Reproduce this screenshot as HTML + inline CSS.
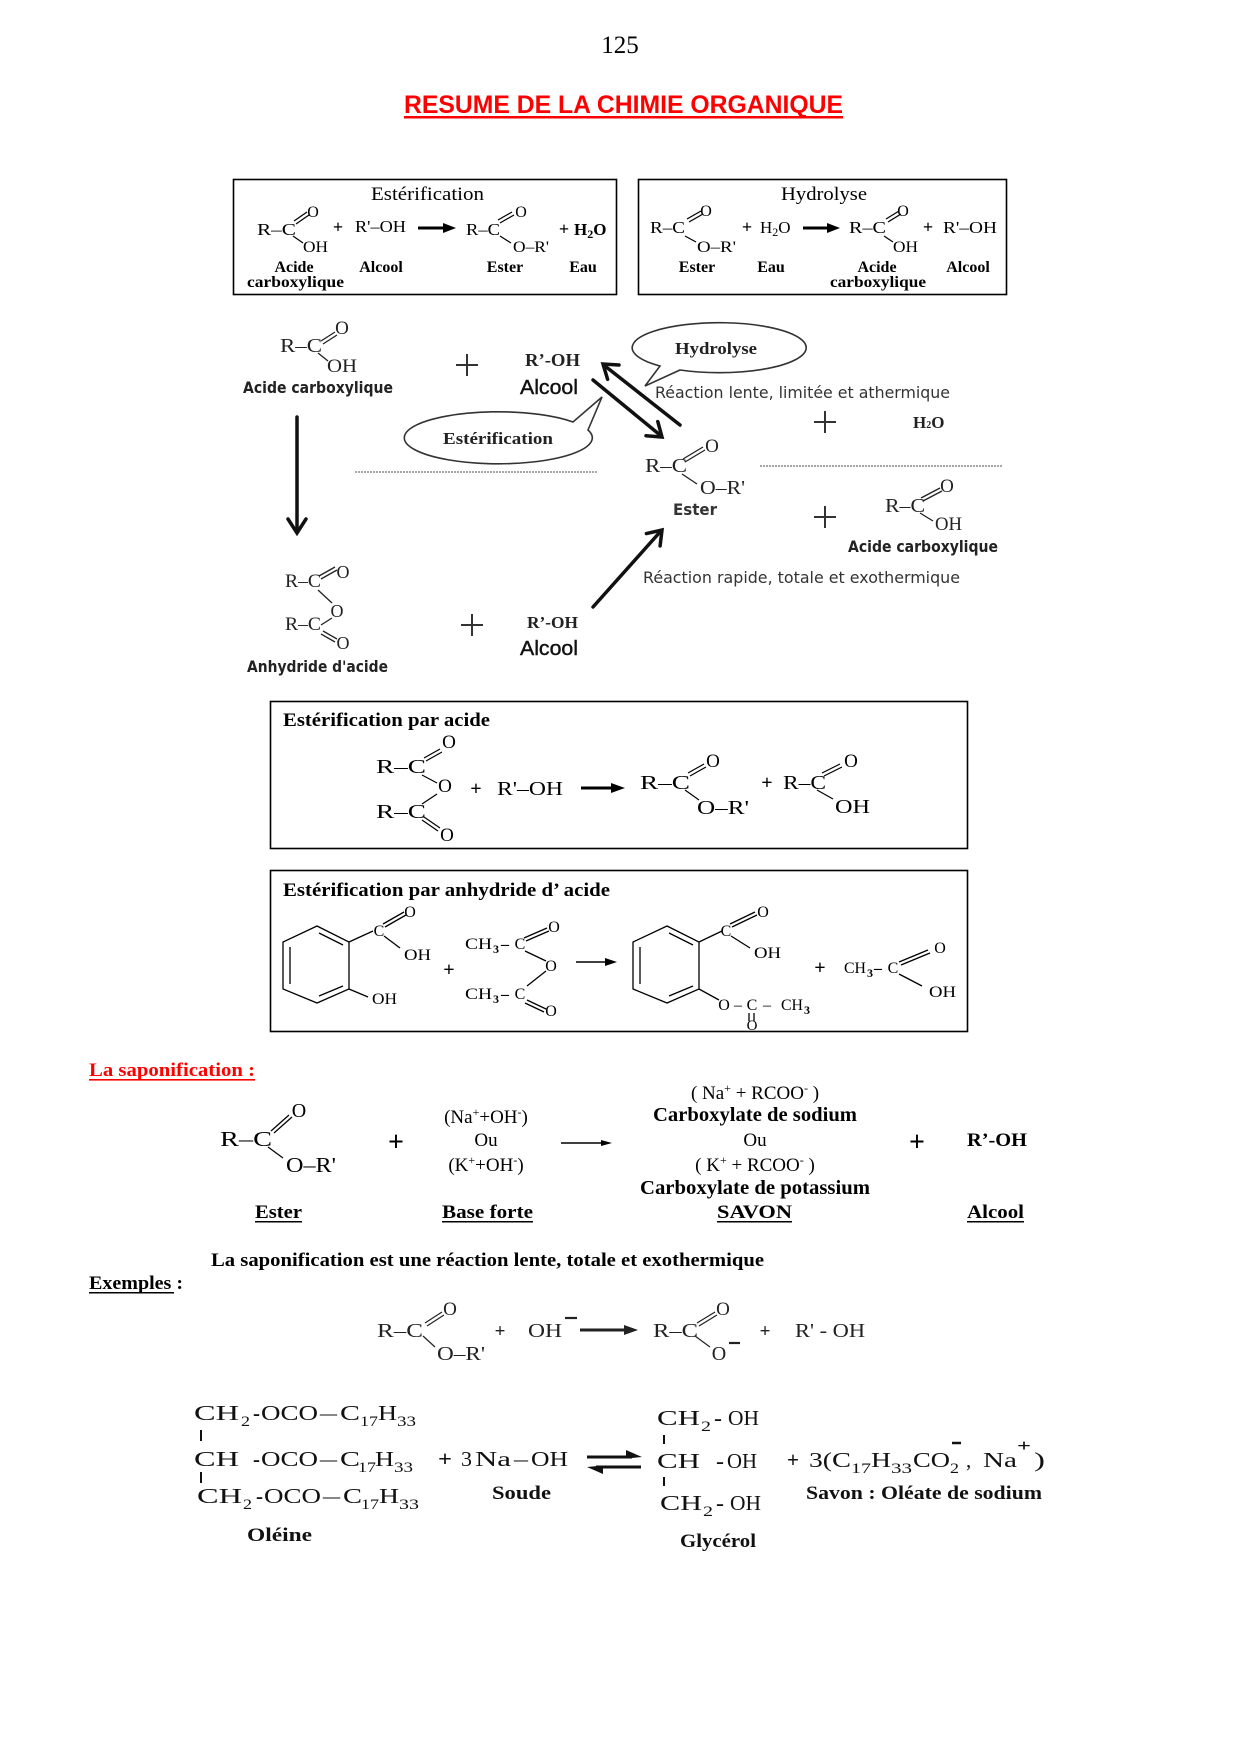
<!DOCTYPE html>
<html><head><meta charset="utf-8">
<style>
html,body{margin:0;padding:0;background:#fff;}
svg{display:block;}
svg text{font-family:"Liberation Serif",serif;}
svg text.ss{font-family:"Liberation Sans",sans-serif;}
svg text.c{font-family:"DejaVu Sans",sans-serif;}
svg text.b{font-weight:bold;}
</style></head><body>
<svg width="1240" height="1754" viewBox="0 0 1240 1754" xmlns="http://www.w3.org/2000/svg">
<rect width="1240" height="1754" fill="#fff"/>

<!-- Header -->
<text x="620" y="53" text-anchor="middle" font-size="25">125</text>
<text x="404" y="113" class="ss b" font-size="25" fill="#f00" textLength="439" lengthAdjust="spacingAndGlyphs">RESUME DE LA CHIMIE ORGANIQUE</text>
<rect x="404" y="116" width="439" height="2.5" fill="#f00"/>

<!-- Box 1 : Esterification -->
<rect x="233.5" y="179.5" width="383" height="115" fill="none" stroke="#000" stroke-width="1.6"/>
<text x="371" y="200" font-size="19" textLength="113" lengthAdjust="spacingAndGlyphs">Estérification</text>
<text x="257" y="235" font-size="17" textLength="39" lengthAdjust="spacingAndGlyphs">R–C</text>
<text x="313" y="217" font-size="16" text-anchor="middle">O</text>
<g stroke="#000" stroke-width="1.2">
<line x1="294" y1="221" x2="307" y2="212"/><line x1="296" y1="224" x2="309" y2="215"/>
<line x1="293" y1="236" x2="303" y2="243"/>
</g>
<text x="303" y="252" font-size="16" textLength="25" lengthAdjust="spacingAndGlyphs">OH</text>
<text x="338" y="233" font-size="18" class="b" text-anchor="middle">+</text>
<text x="355" y="232" font-size="17" textLength="51" lengthAdjust="spacingAndGlyphs">R'–OH</text>
<line x1="418" y1="228" x2="446" y2="228" stroke="#000" stroke-width="3"/>
<polygon points="443,223 456,228 443,233" fill="#000"/>
<text x="466" y="235" font-size="17" textLength="34" lengthAdjust="spacingAndGlyphs">R–C</text>
<text x="521" y="217" font-size="16" text-anchor="middle">O</text>
<g stroke="#000" stroke-width="1.2">
<line x1="498" y1="220" x2="512" y2="212"/><line x1="500" y1="223" x2="514" y2="215"/>
<line x1="500" y1="236" x2="511" y2="243"/>
</g>
<text x="513" y="252" font-size="16" textLength="36" lengthAdjust="spacingAndGlyphs">O–R'</text>
<text x="564" y="235" font-size="18" class="b" text-anchor="middle">+</text>
<text x="574" y="235" font-size="17" class="b">H<tspan font-size="12" dy="3">2</tspan><tspan dy="-3">O</tspan></text>
<text x="294" y="272" font-size="16" class="b" text-anchor="middle">Acide</text>
<text x="247" y="287" font-size="16" class="b" textLength="97" lengthAdjust="spacingAndGlyphs">carboxylique</text>
<text x="381" y="272" font-size="16" class="b" text-anchor="middle">Alcool</text>
<text x="505" y="272" font-size="16" class="b" text-anchor="middle">Ester</text>
<text x="583" y="272" font-size="16" class="b" text-anchor="middle">Eau</text>

<!-- Box 2 : Hydrolyse -->
<rect x="638.5" y="179.5" width="368" height="115" fill="none" stroke="#000" stroke-width="1.6"/>
<text x="781" y="200" font-size="19" textLength="86" lengthAdjust="spacingAndGlyphs">Hydrolyse</text>
<text x="650" y="233" font-size="17" textLength="35" lengthAdjust="spacingAndGlyphs">R–C</text>
<text x="706" y="216" font-size="16" text-anchor="middle">O</text>
<g stroke="#000" stroke-width="1.2">
<line x1="687" y1="219" x2="701" y2="211"/><line x1="689" y1="222" x2="703" y2="214"/>
<line x1="685" y1="236" x2="696" y2="242"/>
</g>
<text x="697" y="252" font-size="16" textLength="39" lengthAdjust="spacingAndGlyphs">O–R'</text>
<text x="747" y="233" font-size="18" class="b" text-anchor="middle">+</text>
<text x="760" y="233" font-size="17">H<tspan font-size="12" dy="3">2</tspan><tspan dy="-3">O</tspan></text>
<line x1="803" y1="228" x2="830" y2="228" stroke="#000" stroke-width="3"/>
<polygon points="827,223 840,228 827,233" fill="#000"/>
<text x="849" y="233" font-size="17" textLength="37" lengthAdjust="spacingAndGlyphs">R–C</text>
<text x="903" y="216" font-size="16" text-anchor="middle">O</text>
<g stroke="#000" stroke-width="1.2">
<line x1="886" y1="219" x2="899" y2="211"/><line x1="888" y1="222" x2="901" y2="214"/>
<line x1="884" y1="236" x2="893" y2="242"/>
</g>
<text x="893" y="252" font-size="16" textLength="25" lengthAdjust="spacingAndGlyphs">OH</text>
<text x="928" y="233" font-size="18" class="b" text-anchor="middle">+</text>
<text x="943" y="233" font-size="17" textLength="54" lengthAdjust="spacingAndGlyphs">R'–OH</text>
<text x="697" y="272" font-size="16" class="b" text-anchor="middle">Ester</text>
<text x="771" y="272" font-size="16" class="b" text-anchor="middle">Eau</text>
<text x="877" y="272" font-size="16" class="b" text-anchor="middle">Acide</text>
<text x="830" y="287" font-size="16" class="b" textLength="96" lengthAdjust="spacingAndGlyphs">carboxylique</text>
<text x="968" y="272" font-size="16" class="b" text-anchor="middle">Alcool</text>

<!-- Middle diagram -->
<g fill="#222">
<text x="280" y="352" font-size="20" textLength="42" lengthAdjust="spacingAndGlyphs">R–C</text>
<text x="342" y="334" font-size="19" text-anchor="middle">O</text>
<text x="327" y="372" font-size="19" textLength="30" lengthAdjust="spacingAndGlyphs">OH</text>
</g>
<g stroke="#222" stroke-width="1.3">
<line x1="321" y1="341" x2="335" y2="332"/><line x1="323" y1="344" x2="337" y2="335"/>
<line x1="318" y1="353" x2="328" y2="361"/>
</g>
<text x="243" y="393" class="c b" font-size="16" fill="#222" textLength="150" lengthAdjust="spacingAndGlyphs">Acide carboxylique</text>
<g stroke="#333" stroke-width="2">
<line x1="456" y1="365" x2="478" y2="365"/><line x1="467" y1="354" x2="467" y2="376"/>
</g>
<text x="525" y="366" font-size="18" class="b" fill="#222" textLength="55" lengthAdjust="spacingAndGlyphs">R’-OH</text>
<text x="520" y="394" class="ss" font-size="20" fill="#111" stroke="#111" stroke-width="0.4" textLength="58" lengthAdjust="spacingAndGlyphs">Alcool</text>

<!-- double arrows -->
<g stroke="#111" stroke-width="3.5" fill="none" stroke-linecap="round" stroke-linejoin="miter">
<line x1="680" y1="425" x2="605" y2="366"/>
<polyline points="607.6,379.3 603,364 619,365"/>
<line x1="593" y1="380" x2="660" y2="435"/>
<polyline points="657.8,421.6 662,437 646,435.7"/>
<line x1="297" y1="417" x2="297" y2="531"/>
<polyline points="288,519 297,533 306,519"/>
<line x1="593" y1="607" x2="660" y2="532"/>
<polyline points="646.4,533.6 662,530 660.1,545.9"/>
</g>

<!-- bubbles -->
<path d="M680,370 A87,25 0 1,0 660,366 L645,386 Z" fill="#fff" stroke="#333" stroke-width="1.6"/>
<text x="675" y="354" font-size="17" class="b" fill="#222" textLength="82" lengthAdjust="spacingAndGlyphs">Hydrolyse</text>
<path d="M588,430 A94,26 0 1,1 573,422 L602,397 Z" fill="#fff" stroke="#333" stroke-width="1.6"/>
<text x="443" y="444" font-size="17" class="b" fill="#222" textLength="110" lengthAdjust="spacingAndGlyphs">Estérification</text>

<!-- dotted lines -->
<line x1="355" y1="472" x2="597" y2="472" stroke="#888" stroke-width="1.5" stroke-dasharray="2 1"/>
<line x1="760" y1="466" x2="1002" y2="466" stroke="#888" stroke-width="1.5" stroke-dasharray="2 1"/>

<text x="655" y="398" class="c" font-size="16" fill="#333" textLength="295" lengthAdjust="spacingAndGlyphs">Réaction lente, limitée et athermique</text>
<g stroke="#333" stroke-width="2">
<line x1="814" y1="422" x2="836" y2="422"/><line x1="825" y1="411" x2="825" y2="433"/>
<line x1="814" y1="517" x2="836" y2="517"/><line x1="825" y1="506" x2="825" y2="528"/>
<line x1="461" y1="625" x2="483" y2="625"/><line x1="472" y1="614" x2="472" y2="636"/>
</g>
<text x="913" y="428" font-size="17" class="b" fill="#222">H<tspan font-size="10">2</tspan>O</text>

<!-- Ester middle -->
<g fill="#222">
<text x="645" y="472" font-size="20" textLength="42" lengthAdjust="spacingAndGlyphs">R–C</text>
<text x="712" y="452" font-size="19" text-anchor="middle">O</text>
<text x="700" y="494" font-size="20" textLength="45" lengthAdjust="spacingAndGlyphs">O–R'</text>
</g>
<g stroke="#222" stroke-width="1.3">
<line x1="683" y1="459" x2="703" y2="447"/><line x1="685" y1="462" x2="705" y2="450"/>
<line x1="682" y1="474" x2="697" y2="484"/>
</g>
<text x="673" y="515" class="c b" font-size="16" fill="#333" textLength="44" lengthAdjust="spacingAndGlyphs">Ester</text>

<!-- Acid right -->
<g fill="#222">
<text x="885" y="512" font-size="20" textLength="40" lengthAdjust="spacingAndGlyphs">R–C</text>
<text x="947" y="492" font-size="19" text-anchor="middle">O</text>
<text x="935" y="530" font-size="19" textLength="27" lengthAdjust="spacingAndGlyphs">OH</text>
</g>
<g stroke="#222" stroke-width="1.3">
<line x1="921" y1="498" x2="940" y2="488"/><line x1="923" y1="501" x2="942" y2="491"/>
<line x1="920" y1="513" x2="933" y2="521"/>
</g>
<text x="848" y="552" class="c b" font-size="16" fill="#222" textLength="150" lengthAdjust="spacingAndGlyphs">Acide carboxylique</text>
<text x="643" y="583" class="c" font-size="16" fill="#333" textLength="317" lengthAdjust="spacingAndGlyphs">Réaction rapide, totale et exothermique</text>

<!-- Anhydride -->
<g fill="#222">
<text x="285" y="587" font-size="19" textLength="36" lengthAdjust="spacingAndGlyphs">R–C</text>
<text x="343" y="578" font-size="18" text-anchor="middle">O</text>
<text x="337" y="617" font-size="18" text-anchor="middle">O</text>
<text x="285" y="630" font-size="19" textLength="36" lengthAdjust="spacingAndGlyphs">R–C</text>
<text x="343" y="649" font-size="18" text-anchor="middle">O</text>
</g>
<g stroke="#222" stroke-width="1.3">
<line x1="319" y1="576" x2="335" y2="567"/><line x1="321" y1="579" x2="337" y2="570"/>
<line x1="318" y1="590" x2="332" y2="603"/>
<line x1="332" y1="618" x2="321" y2="625"/>
<line x1="321" y1="634" x2="335" y2="642"/><line x1="323" y1="631" x2="337" y2="639"/>
</g>
<text x="247" y="672" class="c b" font-size="16" fill="#222" textLength="141" lengthAdjust="spacingAndGlyphs">Anhydride d'acide</text>
<text x="527" y="628" font-size="17" class="b" fill="#222" textLength="51" lengthAdjust="spacingAndGlyphs">R’-OH</text>
<text x="520" y="655" class="ss" font-size="20" fill="#111" stroke="#111" stroke-width="0.4" textLength="58" lengthAdjust="spacingAndGlyphs">Alcool</text>

<!-- Box 3 -->
<rect x="270.5" y="701.5" width="697" height="147" fill="none" stroke="#000" stroke-width="1.6"/>
<text x="283" y="726" font-size="19" class="b" textLength="207" lengthAdjust="spacingAndGlyphs">Estérification par acide</text>
<text x="376" y="773" font-size="20" textLength="50" lengthAdjust="spacingAndGlyphs">R–C</text>
<text x="449" y="748" font-size="19" text-anchor="middle">O</text>
<text x="445" y="792" font-size="19" text-anchor="middle">O</text>
<text x="376" y="818" font-size="20" textLength="50" lengthAdjust="spacingAndGlyphs">R–C</text>
<text x="447" y="841" font-size="19" text-anchor="middle">O</text>
<g stroke="#000" stroke-width="1.2">
<line x1="424" y1="758" x2="440" y2="749"/><line x1="426" y1="761" x2="442" y2="752"/>
<line x1="422" y1="775" x2="437" y2="783"/>
<line x1="437" y1="794" x2="422" y2="804"/>
<line x1="424" y1="817" x2="440" y2="828"/><line x1="422" y1="820" x2="438" y2="831"/>
</g>
<text x="476" y="795" font-size="20" class="b" text-anchor="middle">+</text>
<text x="497" y="795" font-size="20" textLength="66" lengthAdjust="spacingAndGlyphs">R'–OH</text>
<line x1="581" y1="788" x2="614" y2="788" stroke="#000" stroke-width="3"/>
<polygon points="611,783 625,788 611,793" fill="#000"/>
<text x="640" y="789" font-size="20" textLength="50" lengthAdjust="spacingAndGlyphs">R–C</text>
<text x="713" y="767" font-size="19" text-anchor="middle">O</text>
<text x="697" y="814" font-size="20" textLength="52" lengthAdjust="spacingAndGlyphs">O–R'</text>
<g stroke="#000" stroke-width="1.2">
<line x1="688" y1="773" x2="704" y2="764"/><line x1="690" y1="776" x2="706" y2="767"/>
<line x1="685" y1="790" x2="699" y2="800"/>
</g>
<text x="767" y="789" font-size="20" class="b" text-anchor="middle">+</text>
<text x="783" y="789" font-size="20" textLength="43" lengthAdjust="spacingAndGlyphs">R–C</text>
<text x="851" y="767" font-size="19" text-anchor="middle">O</text>
<text x="835" y="813" font-size="20" textLength="35" lengthAdjust="spacingAndGlyphs">OH</text>
<g stroke="#000" stroke-width="1.2">
<line x1="822" y1="773" x2="840" y2="764"/><line x1="824" y1="776" x2="842" y2="767"/>
<line x1="817" y1="790" x2="833" y2="799"/>
</g>

<!-- Box 4 -->
<rect x="270.5" y="870.5" width="697" height="161" fill="none" stroke="#000" stroke-width="1.6"/>
<text x="283" y="896" font-size="19" class="b" textLength="327" lengthAdjust="spacingAndGlyphs">Estérification par anhydride d’ acide</text>
<g stroke="#000" stroke-width="1.3" fill="none">
<polygon points="317,926 349,942 349,989 317,1003 283,989 283,942"/>
<line x1="290" y1="947" x2="290" y2="984"/>
<line x1="319" y1="933" x2="343" y2="945"/>
<line x1="343" y1="986" x2="319" y2="996"/>
<line x1="349" y1="942" x2="373" y2="931"/>
<line x1="383" y1="924" x2="404" y2="912"/><line x1="385" y1="927" x2="406" y2="915"/>
<line x1="384" y1="936" x2="400" y2="948"/>
<line x1="349" y1="989" x2="368" y2="997"/>
<line x1="524" y1="938" x2="547" y2="928"/><line x1="526" y1="941" x2="549" y2="931"/>
<line x1="525" y1="951" x2="546" y2="961"/>
<line x1="546" y1="971" x2="527" y2="986"/>
<line x1="527" y1="1000" x2="546" y2="1009"/><line x1="525" y1="1003" x2="544" y2="1012"/>
<polygon points="667,926 699,942 699,989 667,1003 633,989 633,942"/>
<line x1="640" y1="947" x2="640" y2="984"/>
<line x1="669" y1="933" x2="693" y2="945"/>
<line x1="693" y1="986" x2="669" y2="996"/>
<line x1="699" y1="942" x2="722" y2="931"/>
<line x1="730" y1="924" x2="755" y2="912"/><line x1="732" y1="927" x2="757" y2="915"/>
<line x1="731" y1="936" x2="750" y2="948"/>
<line x1="699" y1="989" x2="719" y2="1000"/>
<line x1="749" y1="1013" x2="749" y2="1021"/><line x1="754" y1="1013" x2="754" y2="1021"/>
<line x1="899" y1="962" x2="928" y2="950"/><line x1="901" y1="965" x2="930" y2="953"/>
<line x1="899" y1="974" x2="922" y2="986"/>
</g>
<text x="379" y="936" font-size="16" text-anchor="middle">C</text>
<text x="410" y="917" font-size="16" text-anchor="middle">O</text>
<text x="404" y="960" font-size="16" textLength="27" lengthAdjust="spacingAndGlyphs">OH</text>
<text x="372" y="1004" font-size="16" textLength="25" lengthAdjust="spacingAndGlyphs">OH</text>
<text x="449" y="976" font-size="20" class="b" text-anchor="middle">+</text>
<text x="465" y="949" font-size="16" textLength="27" lengthAdjust="spacingAndGlyphs">CH</text>
<text x="493" y="953" font-size="12" class="b">3</text>
<text x="501" y="949" font-size="16" class="b">–</text>
<text x="520" y="949" font-size="16" text-anchor="middle">C</text>
<text x="554" y="932" font-size="16" text-anchor="middle">O</text>
<text x="551" y="971" font-size="16" text-anchor="middle">O</text>
<text x="465" y="999" font-size="16" textLength="27" lengthAdjust="spacingAndGlyphs">CH</text>
<text x="493" y="1003" font-size="12" class="b">3</text>
<text x="501" y="999" font-size="16" class="b">–</text>
<text x="520" y="999" font-size="16" text-anchor="middle">C</text>
<text x="551" y="1016" font-size="16" text-anchor="middle">O</text>
<line x1="576" y1="962" x2="608" y2="962" stroke="#000" stroke-width="1.6"/>
<polygon points="605,958 617,962 605,966" fill="#000"/>
<text x="726" y="936" font-size="16" text-anchor="middle">C</text>
<text x="763" y="917" font-size="16" text-anchor="middle">O</text>
<text x="754" y="958" font-size="16" textLength="27" lengthAdjust="spacingAndGlyphs">OH</text>
<text x="724" y="1010" font-size="16" text-anchor="middle">O</text>
<text x="738" y="1010" font-size="16" text-anchor="middle">–</text>
<text x="752" y="1010" font-size="16" text-anchor="middle">C</text>
<text x="767" y="1010" font-size="16" text-anchor="middle">–</text>
<text x="781" y="1010" font-size="16" textLength="22" lengthAdjust="spacingAndGlyphs">CH</text>
<text x="804" y="1014" font-size="12" class="b">3</text>
<text x="752" y="1030" font-size="15" text-anchor="middle">O</text>
<text x="820" y="974" font-size="20" class="b" text-anchor="middle">+</text>
<text x="844" y="973" font-size="16" textLength="22" lengthAdjust="spacingAndGlyphs">CH</text>
<text x="867" y="977" font-size="12" class="b">3</text>
<text x="874" y="973" font-size="16" class="b">–</text>
<text x="893" y="973" font-size="16" text-anchor="middle">C</text>
<text x="940" y="953" font-size="16" text-anchor="middle">O</text>
<text x="929" y="997" font-size="16" textLength="27" lengthAdjust="spacingAndGlyphs">OH</text>

<!-- Saponification -->
<text x="89" y="1076" font-size="19" class="b" fill="#f00" textLength="166" lengthAdjust="spacingAndGlyphs">La saponification :</text>
<rect x="89" y="1079" width="166" height="1.6" fill="#f00"/>
<text x="220" y="1146" font-size="21" textLength="52" lengthAdjust="spacingAndGlyphs">R–C</text>
<text x="299" y="1117" font-size="20" text-anchor="middle">O</text>
<text x="286" y="1172" font-size="21" textLength="50" lengthAdjust="spacingAndGlyphs">O–R'</text>
<g stroke="#000" stroke-width="1.2">
<line x1="271" y1="1131" x2="289" y2="1115"/><line x1="274" y1="1133" x2="292" y2="1117"/>
<line x1="268" y1="1147" x2="283" y2="1158"/>
</g>
<text x="396" y="1151" font-size="28" class="b" text-anchor="middle">+</text>
<text x="486" y="1123" font-size="19" text-anchor="middle">(Na<tspan font-size="12" dy="-7">+</tspan><tspan dy="7">+OH</tspan><tspan font-size="12" dy="-7">-</tspan><tspan dy="7">)</tspan></text>
<text x="486" y="1146" font-size="19" text-anchor="middle">Ou</text>
<text x="486" y="1171" font-size="19" text-anchor="middle">(K<tspan font-size="12" dy="-7">+</tspan><tspan dy="7">+OH</tspan><tspan font-size="12" dy="-7">-</tspan><tspan dy="7">)</tspan></text>
<line x1="561" y1="1143" x2="604" y2="1143" stroke="#000" stroke-width="1.5"/>
<polygon points="601,1140 612,1143 601,1146" fill="#000"/>
<text x="755" y="1099" font-size="19" text-anchor="middle">( Na<tspan font-size="12" dy="-7">+</tspan><tspan dy="7"> + RCOO</tspan><tspan font-size="12" dy="-7">-</tspan><tspan dy="7"> )</tspan></text>
<text x="755" y="1121" font-size="20" class="b" text-anchor="middle" textLength="204" lengthAdjust="spacingAndGlyphs">Carboxylate de sodium</text>
<text x="755" y="1146" font-size="19" text-anchor="middle">Ou</text>
<text x="755" y="1171" font-size="19" text-anchor="middle">( K<tspan font-size="12" dy="-7">+</tspan><tspan dy="7"> + RCOO</tspan><tspan font-size="12" dy="-7">-</tspan><tspan dy="7"> )</tspan></text>
<text x="755" y="1194" font-size="20" class="b" text-anchor="middle" textLength="230" lengthAdjust="spacingAndGlyphs">Carboxylate de potassium</text>
<text x="917" y="1151" font-size="28" class="b" text-anchor="middle">+</text>
<text x="967" y="1146" font-size="19" class="b" textLength="60" lengthAdjust="spacingAndGlyphs">R’-OH</text>
<text x="255" y="1218" font-size="19" class="b" textLength="47" lengthAdjust="spacingAndGlyphs">Ester</text>
<text x="442" y="1218" font-size="19" class="b" textLength="91" lengthAdjust="spacingAndGlyphs">Base forte</text>
<text x="717" y="1218" font-size="19" class="b" textLength="75" lengthAdjust="spacingAndGlyphs">SAVON</text>
<text x="967" y="1218" font-size="19" class="b" textLength="57" lengthAdjust="spacingAndGlyphs">Alcool</text>
<g fill="#000">
<rect x="255" y="1221" width="47" height="1.5"/>
<rect x="442" y="1221" width="91" height="1.5"/>
<rect x="717" y="1221" width="75" height="1.5"/>
<rect x="967" y="1221" width="57" height="1.5"/>
<rect x="89" y="1292" width="85" height="1.5"/>
</g>
<text x="211" y="1266" font-size="19" class="b" textLength="553" lengthAdjust="spacingAndGlyphs">La saponification est une réaction lente, totale et exothermique</text>
<text x="89" y="1289" font-size="19" class="b" textLength="94" lengthAdjust="spacingAndGlyphs">Exemples :</text>

<!-- Example -->
<g fill="#222">
<text x="377" y="1337" font-size="20" textLength="46" lengthAdjust="spacingAndGlyphs">R–C</text>
<text x="450" y="1315" font-size="19" text-anchor="middle">O</text>
<text x="437" y="1360" font-size="20" textLength="48" lengthAdjust="spacingAndGlyphs">O–R'</text>
<text x="500" y="1337" font-size="19" class="b" text-anchor="middle">+</text>
<text x="528" y="1337" font-size="20" textLength="34" lengthAdjust="spacingAndGlyphs">OH</text>
<text x="653" y="1337" font-size="20" textLength="45" lengthAdjust="spacingAndGlyphs">R–C</text>
<text x="723" y="1315" font-size="19" text-anchor="middle">O</text>
<text x="719" y="1360" font-size="20" text-anchor="middle">O</text>
<text x="765" y="1337" font-size="19" class="b" text-anchor="middle">+</text>
<text x="795" y="1337" font-size="20" textLength="70" lengthAdjust="spacingAndGlyphs">R' - OH</text>
</g>
<g stroke="#222" stroke-width="1.2">
<line x1="425" y1="1323" x2="442" y2="1312"/><line x1="427" y1="1326" x2="444" y2="1315"/>
<line x1="423" y1="1336" x2="435" y2="1347"/>
<line x1="697" y1="1323" x2="715" y2="1312"/><line x1="699" y1="1326" x2="717" y2="1315"/>
<line x1="695" y1="1336" x2="710" y2="1347"/>
</g>
<line x1="565" y1="1318" x2="577" y2="1318" stroke="#222" stroke-width="2.2"/>
<line x1="729" y1="1343" x2="740" y2="1343" stroke="#222" stroke-width="2.2"/>
<line x1="580" y1="1330" x2="627" y2="1330" stroke="#222" stroke-width="3"/>
<polygon points="624,1325 638,1330 624,1335" fill="#222"/>

<!-- Oleine reaction -->
<g fill="#111" font-size="21">
<text x="194" y="1420" font-size="21" textLength="45" lengthAdjust="spacingAndGlyphs">CH</text>
<text x="241" y="1426" font-size="15" textLength="9" lengthAdjust="spacingAndGlyphs">2</text>
<text x="253" y="1420" font-size="21" class="b" textLength="7" lengthAdjust="spacingAndGlyphs">-</text>
<text x="261" y="1420" font-size="21" textLength="57" lengthAdjust="spacingAndGlyphs">OCO</text>
<text x="320" y="1420" font-size="21" textLength="17" lengthAdjust="spacingAndGlyphs">–</text>
<text x="340" y="1420" font-size="21" textLength="20" lengthAdjust="spacingAndGlyphs">C</text>
<text x="360" y="1426" font-size="15" textLength="18" lengthAdjust="spacingAndGlyphs">17</text>
<text x="378" y="1420" font-size="21" textLength="19" lengthAdjust="spacingAndGlyphs">H</text>
<text x="397" y="1426" font-size="15" textLength="19" lengthAdjust="spacingAndGlyphs">33</text>
<text x="194" y="1466" font-size="21" textLength="45" lengthAdjust="spacingAndGlyphs">CH</text>
<text x="253" y="1466" font-size="21" class="b" textLength="7" lengthAdjust="spacingAndGlyphs">-</text>
<text x="261" y="1466" font-size="21" textLength="57" lengthAdjust="spacingAndGlyphs">OCO</text>
<text x="320" y="1466" font-size="21" textLength="17" lengthAdjust="spacingAndGlyphs">–</text>
<text x="340" y="1466" font-size="21" textLength="20" lengthAdjust="spacingAndGlyphs">C</text>
<text x="358" y="1472" font-size="15" textLength="18" lengthAdjust="spacingAndGlyphs">17</text>
<text x="375" y="1466" font-size="21" textLength="19" lengthAdjust="spacingAndGlyphs">H</text>
<text x="394" y="1472" font-size="15" textLength="19" lengthAdjust="spacingAndGlyphs">33</text>
<text x="197" y="1503" font-size="21" textLength="45" lengthAdjust="spacingAndGlyphs">CH</text>
<text x="243" y="1509" font-size="15" textLength="9" lengthAdjust="spacingAndGlyphs">2</text>
<text x="256" y="1503" font-size="21" class="b" textLength="7" lengthAdjust="spacingAndGlyphs">-</text>
<text x="264" y="1503" font-size="21" textLength="57" lengthAdjust="spacingAndGlyphs">OCO</text>
<text x="323" y="1503" font-size="21" textLength="17" lengthAdjust="spacingAndGlyphs">–</text>
<text x="343" y="1503" font-size="21" textLength="19" lengthAdjust="spacingAndGlyphs">C</text>
<text x="361" y="1509" font-size="15" textLength="18" lengthAdjust="spacingAndGlyphs">17</text>
<text x="379" y="1503" font-size="21" textLength="20" lengthAdjust="spacingAndGlyphs">H</text>
<text x="399" y="1509" font-size="15" textLength="20" lengthAdjust="spacingAndGlyphs">33</text>

<text x="247" y="1541" font-size="19" class="b" textLength="65" lengthAdjust="spacingAndGlyphs">Oléine</text>

<text x="438" y="1466" font-size="22" class="b" textLength="14" lengthAdjust="spacingAndGlyphs">+</text>
<text x="461" y="1466" font-size="21" textLength="11" lengthAdjust="spacingAndGlyphs">3</text>
<text x="475" y="1466" font-size="21" textLength="36" lengthAdjust="spacingAndGlyphs">Na</text>
<text x="514" y="1466" font-size="21" textLength="14" lengthAdjust="spacingAndGlyphs">–</text>
<text x="531" y="1466" font-size="21" textLength="37" lengthAdjust="spacingAndGlyphs">OH</text>
<text x="492" y="1499" font-size="19" class="b" textLength="59" lengthAdjust="spacingAndGlyphs">Soude</text>

<text x="657" y="1425" font-size="21" textLength="43" lengthAdjust="spacingAndGlyphs">CH</text>
<text x="701" y="1431" font-size="15" textLength="10" lengthAdjust="spacingAndGlyphs">2</text>
<text x="714" y="1425" font-size="21" class="b" textLength="8" lengthAdjust="spacingAndGlyphs">-</text>
<text x="728" y="1425" font-size="21" textLength="31" lengthAdjust="spacingAndGlyphs">OH</text>
<text x="657" y="1468" font-size="21" textLength="43" lengthAdjust="spacingAndGlyphs">CH</text>
<text x="716" y="1468" font-size="21" class="b" textLength="8" lengthAdjust="spacingAndGlyphs">-</text>
<text x="727" y="1468" font-size="21" textLength="30" lengthAdjust="spacingAndGlyphs">OH</text>
<text x="660" y="1510" font-size="21" textLength="42" lengthAdjust="spacingAndGlyphs">CH</text>
<text x="703" y="1516" font-size="15" textLength="10" lengthAdjust="spacingAndGlyphs">2</text>
<text x="716" y="1510" font-size="21" class="b" textLength="8" lengthAdjust="spacingAndGlyphs">-</text>
<text x="730" y="1510" font-size="21" textLength="31" lengthAdjust="spacingAndGlyphs">OH</text>
<text x="680" y="1547" font-size="19" class="b" textLength="76" lengthAdjust="spacingAndGlyphs">Glycérol</text>

<text x="787" y="1467" font-size="22" class="b" textLength="12" lengthAdjust="spacingAndGlyphs">+</text>
<text x="809" y="1467" font-size="21" textLength="23" lengthAdjust="spacingAndGlyphs">3(</text>
<text x="832" y="1467" font-size="21" textLength="19" lengthAdjust="spacingAndGlyphs">C</text>
<text x="851" y="1473" font-size="15" textLength="20" lengthAdjust="spacingAndGlyphs">17</text>
<text x="871" y="1467" font-size="21" textLength="20" lengthAdjust="spacingAndGlyphs">H</text>
<text x="891" y="1473" font-size="15" textLength="21" lengthAdjust="spacingAndGlyphs">33</text>
<text x="913" y="1467" font-size="21" textLength="37" lengthAdjust="spacingAndGlyphs">CO</text>
<text x="950" y="1473" font-size="15" textLength="9" lengthAdjust="spacingAndGlyphs">2</text>
<text x="966" y="1467" font-size="21">,</text>
<text x="983" y="1467" font-size="21" textLength="34" lengthAdjust="spacingAndGlyphs">Na</text>
<text x="1017" y="1451" font-size="17" class="b" textLength="14" lengthAdjust="spacingAndGlyphs">+</text>
<text x="1034" y="1467" font-size="21" textLength="11" lengthAdjust="spacingAndGlyphs">)</text>
<text x="806" y="1499" font-size="19" class="b" textLength="236" lengthAdjust="spacingAndGlyphs">Savon : Oléate de sodium</text>
</g>
<line x1="952" y1="1443" x2="961" y2="1443" stroke="#111" stroke-width="2.5"/>
<g stroke="#111" stroke-width="2">
<line x1="201" y1="1430" x2="201" y2="1441"/>
<line x1="201" y1="1472" x2="201" y2="1483"/>
<line x1="664" y1="1435" x2="664" y2="1444"/>
<line x1="664" y1="1477" x2="664" y2="1486"/>
</g>
<line x1="587" y1="1457" x2="632" y2="1457" stroke="#111" stroke-width="3"/>
<polygon points="626,1450 642,1457 626,1458.5" fill="#111"/>
<line x1="596" y1="1467" x2="641" y2="1467" stroke="#111" stroke-width="3"/>
<polygon points="603,1474 587,1467 603,1465.5" fill="#111"/>
</svg>
</body></html>
